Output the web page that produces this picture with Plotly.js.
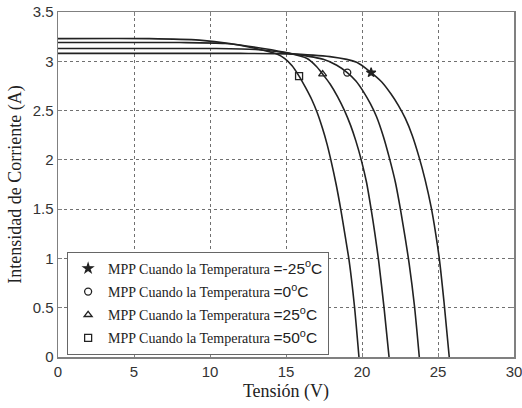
<!DOCTYPE html>
<html>
<head>
<meta charset="utf-8">
<script src="https://cdn.plot.ly/plotly-3.0.1.min.js"></script>
<style>html,body{margin:0;padding:0;background:#fff;}#chart{width:522px;height:408px;}</style>
</head>
<body>
<div id="chart"></div>
<script>
// I-V curves (Tensión V, Intensidad A)
const V50 = [0, 6, 9.3, 11.3, 13.3, 14.4, 14.9, 15.4, 15.86, 16.3, 16.7, 17.05, 17.4, 17.7, 17.95, 18.3, 18.6, 18.9, 19.15, 19.5, 19.8];
const I50 = [3.23, 3.23, 3.215, 3.18, 3.12, 3.075, 3.03, 2.955, 2.85, 2.73, 2.61, 2.48, 2.32, 2.16, 2.0, 1.75, 1.5, 1.22, 0.98, 0.52, 0];

const V25 = [0, 8, 11, 13.5, 15.26, 16.36, 17.02, 17.41, 17.9, 18.4, 18.85, 19.25, 19.6, 19.95, 20.3, 20.6, 20.85, 21.1, 21.45, 21.78];
const I25 = [3.19, 3.19, 3.18, 3.13, 3.08, 3.03, 2.945, 2.87, 2.77, 2.64, 2.5, 2.35, 2.19, 2.0, 1.77, 1.5, 1.25, 0.97, 0.5, 0];

const V0 = [0, 10, 13, 15.7, 17.45, 18.34, 19.03, 19.6, 20.1, 20.55, 20.95, 21.4, 21.8, 22.2, 22.55, 22.85, 23.1, 23.45, 23.77];
const I0 = [3.13, 3.13, 3.12, 3.07, 3.02, 2.96, 2.885, 2.8, 2.69, 2.57, 2.44, 2.24, 2.02, 1.77, 1.48, 1.2, 0.95, 0.52, 0];

const Vm25 = [0, 12, 15, 17.89, 19.65, 20.6, 21.3, 21.9, 22.4, 22.85, 23.3, 23.75, 24.15, 24.55, 24.85, 25.1, 25.4, 25.74];
const Im25 = [3.08, 3.08, 3.075, 3.047, 2.99, 2.885, 2.79, 2.67, 2.55, 2.42, 2.25, 2.03, 1.8, 1.52, 1.25, 0.98, 0.55, 0];

// Maximum power points
const mppTemps = ['-25', '0', '25', '50'];
const mppV = [20.6, 19.03, 17.41, 15.86];
const mppI = [2.885, 2.885, 2.87, 2.85];
const mppSymbols = ['star', 'circle-open', 'triangle-up-open', 'square-open'];

const xTicks = [0, 5, 10, 15, 20, 25, 30];
const yTicks = [0, 0.5, 1, 1.5, 2, 2.5, 3, 3.5];

const lineColor = '#222';
const curves = [[V50, I50], [V25, I25], [V0, I0], [Vm25, Im25]];
const traces = curves.map(c => ({
  x: c[0], y: c[1], mode: 'lines', type: 'scatter',
  line: {color: lineColor, width: 1.6, shape: 'spline', smoothing: 0.7},
  showlegend: false, hoverinfo: 'skip'
}));

mppTemps.forEach((t, i) => {
  traces.push({
    x: [mppV[i]], y: [mppI[i]], mode: 'markers', type: 'scatter',
    legendgroup: 'g' + i,
    marker: {symbol: mppSymbols[i], size: 7, color: '#222', line: {color: '#222', width: 1.3}},
    name: '<span style="font-family:\'Liberation Serif\'">MPP Cuando la Temperatura</span> ' +
          '<span style="font-family:\'Liberation Sans\';font-size:15.5px">=' + t + '<sup>o</sup>C</span>'
  });
});

const axisCommon = {
  showline: true, mirror: 'ticks', linecolor: '#808080', linewidth: 1.5,
  ticks: 'inside', ticklen: 4, tickcolor: '#808080',
  showgrid: true, gridcolor: '#707070', griddash: 'dot', gridwidth: 1,
  zeroline: false, ticklabeloverflow: 'allow',
  tickfont: {family: 'Liberation Sans, Arial', size: 15, color: '#333'}
};

const layout = {
  width: 522, height: 408,
  margin: {l: 58, r: 8, t: 12, b: 51},
  paper_bgcolor: '#fff', plot_bgcolor: '#fff',
  showlegend: true,
  legend: {
    x: 0.02, y: 0.305, xanchor: 'left', yanchor: 'top',
    bgcolor: '#fff', bordercolor: '#666', borderwidth: 1,
    font: {family: 'Liberation Serif', size: 14, color: '#222'},
    traceorder: 'grouped', tracegroupgap: 2
  },
  xaxis: Object.assign({}, axisCommon, {
    range: [0, 30], tickvals: xTicks, ticktext: xTicks.map(String),
    title: {text: 'Tensión (V)', font: {family: 'Liberation Serif', size: 18, color: '#222'}, standoff: 6}
  }),
  yaxis: Object.assign({}, axisCommon, {
    range: [0, 3.5], tickvals: yTicks, ticktext: yTicks.map(String),
    title: {text: 'Intensidad de Corriente (A)', font: {family: 'Liberation Serif', size: 18, color: '#222'}, standoff: 6}
  })
};

Plotly.newPlot('chart', traces, layout, {displayModeBar: false, staticPlot: true});
</script>
</body>
</html>
